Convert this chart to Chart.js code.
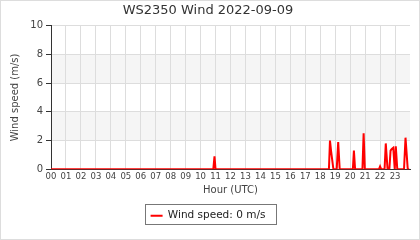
<!DOCTYPE html>
<html>
<head>
<meta charset="utf-8">
<script src="https://cdn.jsdelivr.net/npm/chart.js@4"></script>
<style>
  html, body { margin: 0; padding: 0; background: #fff; }
  #wrap { width: 420px; height: 240px; position: relative; }
</style>
</head>
<body>
<div id="wrap"><canvas id="myChart" width="420" height="240"></canvas></div>
<script>
// Hours (UTC) of each reading and the wind speed at that moment
const hours = [
  0, 10.85, 10.93, 11.0,
  18.58, 18.65, 18.72, 18.78, 18.88, 19.1, 19.2, 19.3,
  20.18, 20.25, 20.33, 20.82, 20.9, 20.98,
  21.92, 22.0, 22.08, 22.3, 22.38, 22.5, 22.62, 22.7, 22.77, 22.82, 22.88, 22.98, 23.05, 23.15,
  23.6, 23.7, 23.85, 23.95
];
const windSpeed = [
  0, 0, 0.9, 0,
  0, 2.0, 1.3, 1.3, 0, 0, 1.9, 0,
  0, 1.3, 0, 0, 2.5, 0,
  0, 0.2, 0, 0, 1.8, 0, 0, 1.3, 1.4, 1.45, 1.5, 0, 1.6, 0,
  0, 2.2, 0, 0
];
const hourLabels = ["00", "01", "02", "03", "04", "05", "06", "07", "08", "09", "10", "11",
  "12", "13", "14", "15", "16", "17", "18", "19", "20", "21", "22", "23"];
const shadedBands = [[2, 4], [6, 8]];

const pointsData = hours.map((h, i) => ({ x: h, y: windSpeed[i] }));

// White background, outer frame and alternating bands
const bandsPlugin = {
  id: "bands",
  beforeDraw(chart) {
    const { ctx, chartArea, scales } = chart;
    ctx.save();
    ctx.fillStyle = "#fff";
    ctx.fillRect(0, 0, chart.width, chart.height);
    ctx.strokeStyle = "#dddddd";
    ctx.lineWidth = 1;
    ctx.strokeRect(0.5, 0.5, chart.width - 1, chart.height - 1);
    ctx.fillStyle = "#f5f5f5";
    shadedBands.forEach(([lo, hi]) => {
      const y1 = scales.y.getPixelForValue(hi);
      const y2 = scales.y.getPixelForValue(lo);
      ctx.fillRect(chartArea.left, y1, chartArea.right - chartArea.left, y2 - y1);
    });
    ctx.restore();
  },
  afterDraw(chart) {
    // frame round the legend
    const boxes = chart.legend.legendHitBoxes;
    if (!boxes || !boxes.length) return;
    const b = boxes[0];
    const ctx = chart.ctx;
    ctx.save();
    ctx.strokeStyle = "#777";
    ctx.lineWidth = 1;
    ctx.strokeRect(Math.round(b.left) - 5.5, Math.round(b.top) - 5.5, Math.round(b.width) + 16, 20);
    ctx.restore();
  },
};

Chart.defaults.font.family = "'DejaVu Sans', sans-serif";
Chart.defaults.color = "#444";

const ctx = document.getElementById("myChart").getContext("2d");
const chart = new Chart(ctx, {
  type: "line",
  data: {
    datasets: [
      {
        label: "Wind speed: 0 m/s",
        data: pointsData,
        borderColor: "#ff0000",
        backgroundColor: "#ff0000",
        borderWidth: 2,
        pointRadius: 0,
        tension: 0,
      },
    ],
  },
  plugins: [bandsPlugin],
  options: {
    responsive: false,
    animation: false,
    events: [],
    layout: { padding: { top: 0, right: 10, bottom: 9, left: 6 } },
    plugins: {
      title: {
        display: true,
        text: "WS2350 Wind 2022-09-09",
        color: "#333",
        font: { size: 13, weight: "normal" },
        padding: { top: 3, bottom: 7 },
      },
      legend: {
        position: "bottom",
        labels: {
          color: "#222",
          font: { size: 10.5 },
          boxWidth: 12,
          boxHeight: 2,
          padding: 14,
          generateLabels: (c) =>
            Chart.defaults.plugins.legend.labels.generateLabels(c).map((l) => ({ ...l, lineWidth: 0 })),
        },
      },
      tooltip: { enabled: false },
    },
    scales: {
      x: {
        type: "linear",
        min: 0,
        max: 24,
        ticks: {
          stepSize: 1,
          autoSkip: false,
          maxRotation: 0,
          padding: 2,
          font: { size: 8.5 },
          callback: (v) => (v < 24 ? hourLabels[v] : null),
        },
        grid: { color: "#dddddd", drawTicks: false },
        border: { color: "#333", width: 1 },
        title: {
          display: true,
          text: "Hour (UTC)",
          color: "#444",
          font: { size: 10 },
          padding: { top: 1, bottom: 0 },
        },
      },
      y: {
        min: 0,
        max: 10,
        ticks: {
          stepSize: 1,
          padding: 3,
          font: { size: 10 },
          callback: (v) => (v % 2 === 0 ? String(v) : ""),
        },
        grid: {
          color: (c) => (c.tick && c.tick.value % 2 === 0 ? "#dddddd" : "rgba(0,0,0,0)"),
          tickColor: "#333",
          tickLength: 5,
        },
        border: { color: "#333", width: 1 },
        title: {
          display: true,
          text: "Wind speed (m/s)",
          color: "#444",
          font: { size: 10 },
          padding: { top: 3, bottom: 0 },
        },
        afterFit: (s) => { s.width = 45; },
      },
    },
  },
});
</script>
</body>
</html>
